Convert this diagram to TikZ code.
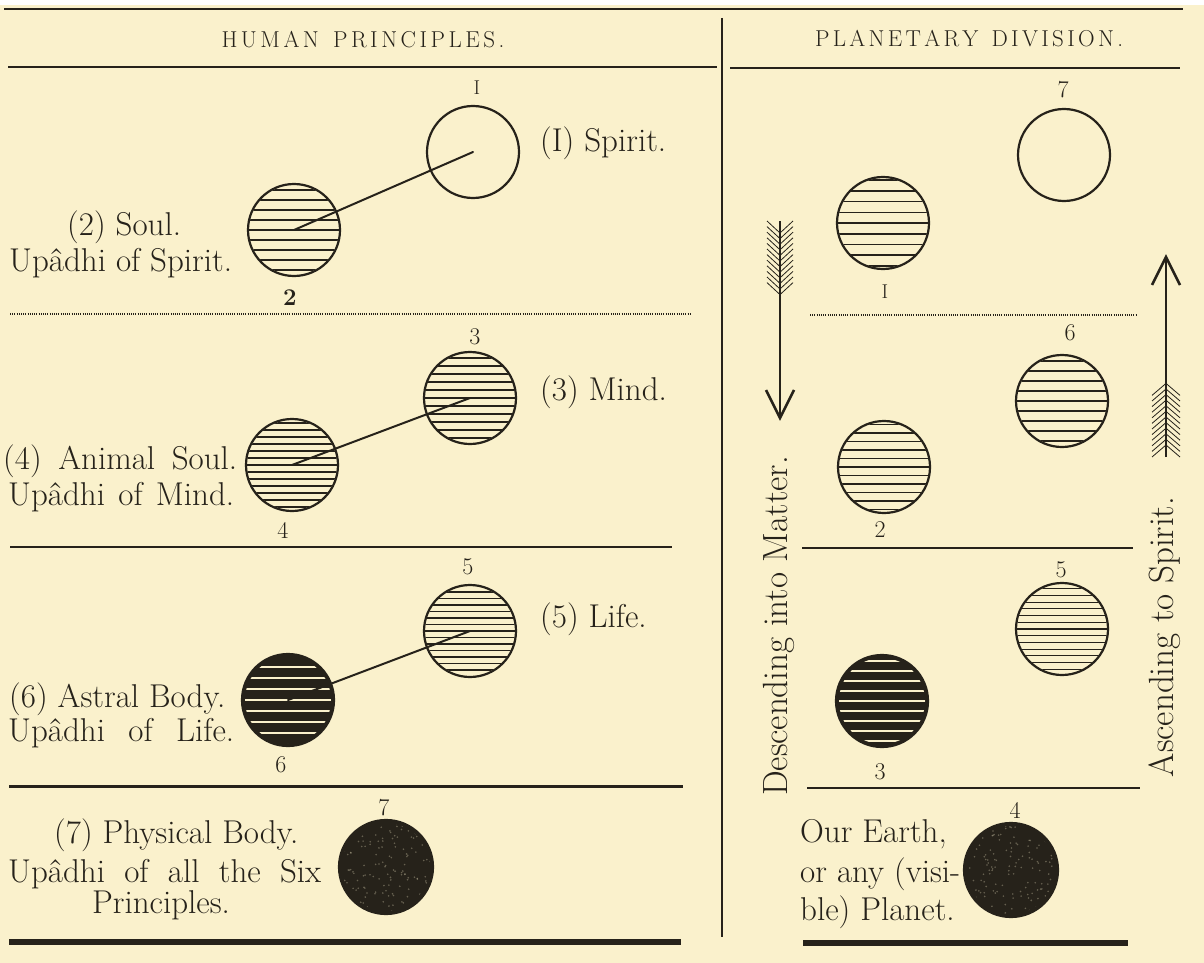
\documentclass[tikz,border=0pt]{standalone}
\usepackage{fontspec}
\definecolor{paper}{RGB}{250,241,204}
\definecolor{ink}{RGB}{38,34,26}
\newcommand{\hatchdisc}[5]{%
  \begin{scope}
    \clip (#1.center) circle (#5);
    \pgfmathtruncatemacro{\hn}{48/#2}
    \pgfmathtruncatemacro{\hm}{-48/#2}
    \foreach \k in {\hm,...,\hn}{
      \draw[line width=#3, #4] ([shift={(-52,\k*#2)}]#1.center) -- ++(104,0);
    }
  \end{scope}}
\newcommand{\speckle}[1]{%
  \begin{scope}
    \clip (#1.center) circle (44);
    \foreach \i in {1,...,140}{
      \fill[paper, opacity=0.3] ([shift={(rand*44,rand*44)}]#1.center) circle (0.9);
    }
  \end{scope}}
\tikzset{
  disc/.style={circle, draw=ink, line width=2.2pt, minimum size=92pt, inner sep=0pt},
  darkdisc/.style={disc, fill=ink},
  lbl/.style={text=ink, inner sep=0pt, font=\fontsize{33}{38}\selectfont},
  num/.style={text=ink, inner sep=0pt, font=\fontsize{24}{27}\selectfont},
  hdr/.style={text=ink, inner sep=0pt, font=\fontsize{23}{26}\selectfont},
  side/.style={text=ink, inner sep=0pt, rotate=90, font=\fontsize{35}{40}\selectfont},
  rulethin/.style={draw=ink, line width=1.5pt},
  conn/.style={draw=ink, line width=2pt, line cap=round},
  barb/.style={draw=ink, line width=0.8pt},
}
\begin{document}
\begin{tikzpicture}[x=1pt,y=-1pt]
\pgfmathsetseed{7}
\useasboundingbox (0,0) rectangle (1204,963);
\fill[paper] (0,0) rectangle (1204,963);
\fill[white] (0,0) rectangle (1204,5);

% ---- rules ----
\draw[rulethin, line width=2pt] (4,9) -- (1183,9);
\draw[rulethin] (722,18) -- (722,937);
\draw[rulethin] (8,67) -- (717,67);
\draw[rulethin] (730,68) -- (1180,68);
\draw[draw=ink, line width=1.3pt, dash pattern=on 1pt off 1.2pt] (10,314) -- (690,314);
\draw[draw=ink, line width=1.3pt, dash pattern=on 1pt off 1.2pt] (810,315) -- (1137,315);
\draw[rulethin] (10,547) -- (672,547);
\draw[rulethin] (802,548) -- (1133,548);
\draw[draw=ink, line width=3pt] (9,786) -- (683,786);
\draw[draw=ink, line width=2.5pt] (807,788) -- (1140,788);
\draw[draw=ink, line width=6pt] (9,942) -- (681,942);
\draw[draw=ink, line width=6pt] (803,943) -- (1128,943);

% ---- headers ----
\node[hdr] (h1) at (363,40) {\makebox[283pt][s]{H\hfil U\hfil M\hfil A\hfil N\hfil\hfil\hfil\hfil P\hfil R\hfil I\hfil N\hfil C\hfil I\hfil P\hfil L\hfil E\hfil S\hfil .}};
\node[hdr] (h2) at (969,39) {\makebox[308pt][s]{P\hfil L\hfil A\hfil N\hfil E\hfil T\hfil A\hfil R\hfil Y\hfil\hfil\hfil\hfil D\hfil I\hfil V\hfil I\hfil S\hfil I\hfil O\hfil N\hfil .}};

% ---- left discs ----
\node[disc] (c1) at (473,152) {};
\node[disc] (c2) at (294,230) {};
\node[disc] (c3) at (470,398) {};
\node[disc] (c4) at (292,465) {};
\node[disc] (c5) at (470,631) {};
\node[darkdisc] (c6) at (288,700) {};
\node[darkdisc, minimum size=94pt] (c7) at (386,867) {};
\hatchdisc{c2}{10}{1.6pt}{ink}{45}
\hatchdisc{c3}{8}{1.3pt}{ink}{45}
\hatchdisc{c4}{7}{1.3pt}{ink}{45}
\hatchdisc{c5}{6.5}{1.1pt}{ink}{45}
\hatchdisc{c6}{11}{2.8pt}{paper}{43}
\speckle{c7}

% ---- right discs ----
\node[disc] (r7) at (1064,155) {};
\node[disc] (r1) at (883,223) {};
\node[disc] (r6) at (1062,401) {};
\node[disc] (r2) at (884,467) {};
\node[disc] (r5) at (1062,629) {};
\node[darkdisc] (r3) at (882,701) {};
\node[darkdisc, minimum size=94pt] (r4) at (1011,870) {};
\hatchdisc{r1}{10.7}{1.6pt}{ink}{45}
\hatchdisc{r6}{10}{1.4pt}{ink}{45}
\hatchdisc{r2}{8.5}{1.3pt}{ink}{45}
\hatchdisc{r5}{6.7}{1.1pt}{ink}{45}
\hatchdisc{r3}{10}{2.6pt}{paper}{43}
\speckle{r4}

% ---- connectors ----
\draw[conn] (c2.center) -- (c1.center);
\draw[conn] (c4.center) -- (c3.center);
\draw[conn] (c6.center) -- (c5.center);

% ---- numbers ----
\node[num, font=\fontsize{20}{22}\selectfont] (n1) at (477,88) {I};
\node[num, font=\fontsize{24}{27}\selectfont\bfseries] (n2) at (290,298) {2};
\node[num] (n3) at (475,337) {3};
\node[num] (n4) at (283,530) {4};
\node[num] (n5) at (468,567) {5};
\node[num] (n6) at (281,765) {6};
\node[num] (n7) at (384,808) {7};
\node[num] (m7) at (1063,90) {7};
\node[num, font=\fontsize{20}{22}\selectfont] (m1) at (885,292) {I};
\node[num] (m6) at (1070,333) {6};
\node[num] (m2) at (880,530) {2};
\node[num] (m5) at (1061,570) {5};
\node[num] (m3) at (880,772) {3};
\node[num] (m4) at (1015,810) {4};

% ---- left labels ----
\node[lbl, anchor=base west] (t1) at (540,151) {(I) Spirit.};
\node[lbl, anchor=base west] (t2) at (67,235) {(2) Soul.};
\node[lbl, anchor=base west] (t2b) at (9,271) {Upâdhi of Spirit.};
\node[lbl, anchor=base west] (t3) at (540,400) {(3) Mind.};
\node[lbl, anchor=base west] (t4) at (3,469) {\makebox[234pt][s]{(4) Animal Soul.}};
\node[lbl, anchor=base west] (t4b) at (8,505) {\makebox[226pt][s]{Upâdhi of Mind.}};
\node[lbl, anchor=base west] (t5) at (540,627) {(5) Life.};
\node[lbl, anchor=base west] (t6) at (9,707) {(6) Astral Body.};
\node[lbl, anchor=base west] (t6b) at (8,741) {\makebox[226pt][s]{Upâdhi of Life.}};
\node[lbl, anchor=base west] (t7) at (54,843) {(7) Physical Body.};
\node[lbl, anchor=base west] (t7b) at (8,882) {\makebox[313pt][s]{Upâdhi of all the Six}};
\node[lbl, anchor=base west] (t7c) at (92,913) {Principles.};

% ---- right labels ----
\node[lbl, anchor=base west] (e1) at (800,842) {Our Earth,};
\node[lbl, anchor=base west] (e2) at (800,882) {or any (visi-};
\node[lbl, anchor=base west] (e3) at (800,920) {ble) Planet.};

% ---- side texts ----
\node[side] (sd) at (779,626) {Descending into Matter.};
\node[side] (sa) at (1165,637) {Ascending to Spirit.};

% ---- descending arrow ----
\coordinate (dtop) at (780,221);
\coordinate (dtip) at (780,418);
\draw[draw=ink, line width=2.2pt] (dtop) -- (dtip);
\draw[draw=ink, line width=2.6pt, line join=miter] ([shift={(-14,-28)}]dtip) -- (dtip) -- ([shift={(14,-28)}]dtip);
\foreach \t in {0,...,11}{
  \draw[barb] ([shift={(0,12+\t*5.6)}]dtop) -- ++(-13,-12);
  \draw[barb] ([shift={(0,12+\t*5.6)}]dtop) -- ++(13,-12);
}

% ---- ascending arrow ----
\coordinate (atip) at (1166,257);
\coordinate (abot) at (1166,457);
\draw[draw=ink, line width=2.2pt] (abot) -- (atip);
\draw[draw=ink, line width=2.6pt, line join=miter] ([shift={(-14,28)}]atip) -- (atip) -- ([shift={(14,28)}]atip);
\foreach \t in {0,...,11}{
  \draw[barb] ([shift={(0,-12-\t*5.6)}]abot) -- ++(-14,12);
  \draw[barb] ([shift={(0,-12-\t*5.6)}]abot) -- ++(14,12);
}
\end{tikzpicture}
\end{document}
